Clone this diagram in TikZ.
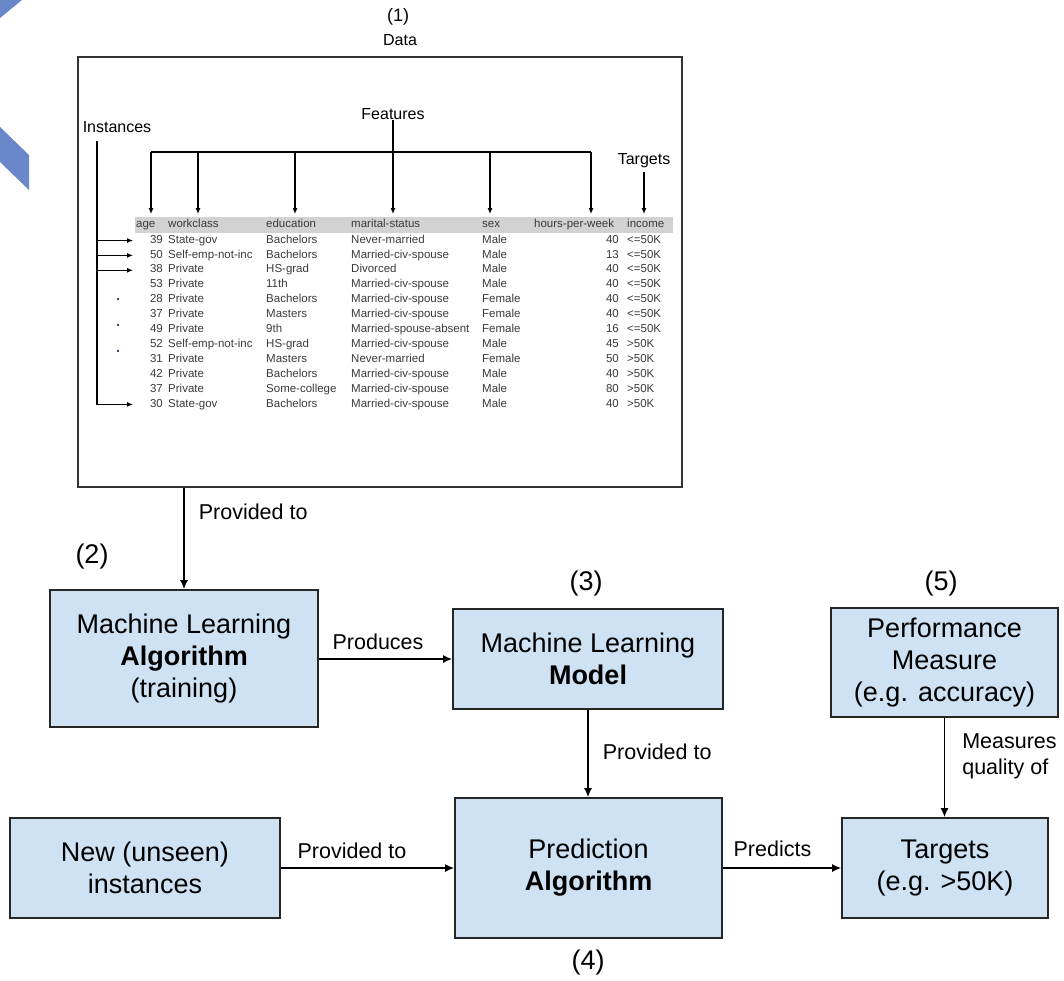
\documentclass[tikz,border=0pt]{standalone}
\usepackage{fontspec}
\setmainfont{Liberation Sans}
\usetikzlibrary{arrows.meta,positioning}
\definecolor{boxblue}{HTML}{CFE2F3}
\definecolor{chevblue}{HTML}{6A87C9}
\definecolor{txtgray}{HTML}{3A3A3A}
\definecolor{hdrgray}{HTML}{D2D2D2}

\begin{document}
\begin{tikzpicture}[x=1pt,y=-1pt,
	mlbox/.style={draw=black!85,line width=1.6pt,fill=boxblue,align=center,inner sep=0pt,font=\fontsize{27}{32}\selectfont},
	steplbl/.style={font=\fontsize{27}{32}\selectfont,inner sep=0pt},
	edgelbl/.style={font=\fontsize{21.5}{26}\selectfont,align=left,inner sep=0pt},
	flow/.style={line width=1.6pt,-{Latex[length=9pt,width=8pt]}},
	smallarr/.style={line width=1.1pt,-{Latex[length=6pt,width=5pt]}},
	cell/.style={font=\fontsize{11.5}{12}\selectfont,text=txtgray,inner sep=0pt},
	tag/.style={font=\fontsize{16}{18}\selectfont,inner sep=0pt}]
	\useasboundingbox (0,0) rectangle (1064,980);
	\fill[chevblue] (0,0) -- (22,0) -- (0,18) -- cycle;
	\fill[chevblue] (0,127) -- (29,155) -- (29,190) -- (0,162) -- cycle;

	% (1) the data
	\node[tag,font=\fontsize{18}{20}\selectfont] (n1) at (398,17) {(1)};
	\node[tag] (datalbl) at (400,40) {Data};
	\node[draw=black!80,line width=1.3pt,minimum width=604pt,minimum height=430pt,inner sep=0pt] (data) at (380,272) {};
	\node[tag] (inst) at (117,127) {Instances};
	\node[tag] (feat) at (393,114) {Features};
	\node[tag] (targ) at (644,161) {Targets};

	\fill[hdrgray] (135,217) rectangle (673,233);
	\node[cell,anchor=mid west] (h-age) at (136,225) {age};
	\node[cell,anchor=mid west] (h-wc) at (168,225) {workclass};
	\node[cell,anchor=mid west] (h-ed) at (266,225) {education};
	\node[cell,anchor=mid west] (h-ms) at (351,225) {marital-status};
	\node[cell,anchor=mid west] (h-sx) at (482,225) {sex};
	\node[cell,anchor=mid west] (h-hr) at (534,225) {hours-per-week};
	\node[cell,anchor=mid west] (h-inc) at (627,225) {income};

	\foreach \ag/\wc/\ed/\ms/\sx/\hr/\inc [count=\i] in {
		39/State-gov/Bachelors/Never-married/Male/40/<=50K,
		50/Self-emp-not-inc/Bachelors/Married-civ-spouse/Male/13/<=50K,
		38/Private/HS-grad/Divorced/Male/40/<=50K,
		53/Private/11th/Married-civ-spouse/Male/40/<=50K,
		28/Private/Bachelors/Married-civ-spouse/Female/40/<=50K,
		37/Private/Masters/Married-civ-spouse/Female/40/<=50K,
		49/Private/9th/Married-spouse-absent/Female/16/<=50K,
		52/Self-emp-not-inc/HS-grad/Married-civ-spouse/Male/45/>50K,
		31/Private/Masters/Never-married/Female/50/>50K,
		42/Private/Bachelors/Married-civ-spouse/Male/40/>50K,
		37/Private/Some-college/Married-civ-spouse/Male/80/>50K,
		30/State-gov/Bachelors/Married-civ-spouse/Male/40/>50K}{
		\pgfmathsetmacro\ry{240.5+(\i-1)*14.9}
		\coordinate (r\i-tip) at (133,\ry);
		\node[cell,anchor=mid east] (r\i-age) at (163,\ry) {\ag};
		\node[cell,anchor=mid west] (r\i-wc) at (168,\ry) {\wc};
		\node[cell,anchor=mid west] (r\i-ed) at (266,\ry) {\ed};
		\node[cell,anchor=mid west] (r\i-ms) at (351,\ry) {\ms};
		\node[cell,anchor=mid west] (r\i-sx) at (482,\ry) {\sx};
		\node[cell,anchor=mid east] (r\i-hr) at (619,\ry) {\hr};
		\node[cell,anchor=mid west] (r\i-inc) at (627,\ry) {\inc};
	}

	% instances
	\coordinate (ibar) at (97,141);
	\draw[smallarr] (ibar) |- (r12-tip);
	\foreach \i in {1,2,3}
		\draw[smallarr] (ibar |- r\i-tip) -- (r\i-tip);
	\foreach \y in {299,325,351}
		\fill[blue!30!black] (118,\y) circle (1.2pt);

	% features and targets
	\coordinate (hline) at (0,214);
	\draw[line width=1.1pt] (151,152) -- (591,152);
	\foreach \x in {151,198,295,490,591}
		\draw[smallarr] (\x,152) -- (\x,214);
	\draw[smallarr] (feat.south) -- (feat.south |- hline);
	\draw[smallarr] (targ.south) ++(0,4) -- (targ.south |- hline);

	% (2)-(5)
	\node[mlbox,minimum width=268pt,minimum height=137pt] (alg) at (184,658.5) {Machine Learning\\\textbf{Algorithm}\\(training)};
	\node[mlbox,minimum width=270pt,minimum height=100pt] (mdl) at (588,659) {Machine Learning\\\textbf{Model}};
	\node[mlbox,minimum width=267pt,minimum height=140pt] (pred) at (588.5,868) {Prediction\\\textbf{Algorithm}};
	\node[mlbox,minimum width=270pt,minimum height=100pt] (new) at (145,868) {New (unseen)\\instances};
	\node[mlbox,minimum width=227pt,minimum height=109pt] (perf) at (944.5,662.5) {Performance\\Measure\\(e.g. accuracy)};
	\node[mlbox,minimum width=206pt,minimum height=100pt] (tgt) at (945,868) {Targets\\(e.g. >50K)};
	\node[steplbl] (s2) at (92,557) {(2)};
	\node[steplbl] (s3) at (586,584) {(3)};
	\node[steplbl] (s4) at (588,962) {(4)};
	\node[steplbl] (s5) at (941,584) {(5)};

	\draw[flow] (alg.north |- data.south) -- node[edgelbl,pos=0.24,anchor=west,xshift=14pt] {Provided to} (alg.north);
	\draw[flow] (alg.east |- mdl.west) -- node[edgelbl,pos=0,anchor=west,xshift=13pt,yshift=17pt] {Produces} (mdl.west);
	\draw[flow] (mdl.south) -- node[edgelbl,pos=0.48,anchor=west,xshift=14pt] {Provided to} (mdl.south |- pred.north);
	\draw[flow] (new.east) -- node[edgelbl,pos=0,anchor=west,xshift=16pt,yshift=17pt] {Provided to} (pred.west);
	\draw[flow] (pred.east) -- node[edgelbl,pos=0,anchor=west,xshift=10pt,yshift=19pt] {Predicts} (tgt.west);
	\draw[flow] (perf.south) -- node[edgelbl,pos=0.39,anchor=west,xshift=17pt] {Measures\\quality of} (perf.south |- tgt.north);
\end{tikzpicture}
\end{document}
